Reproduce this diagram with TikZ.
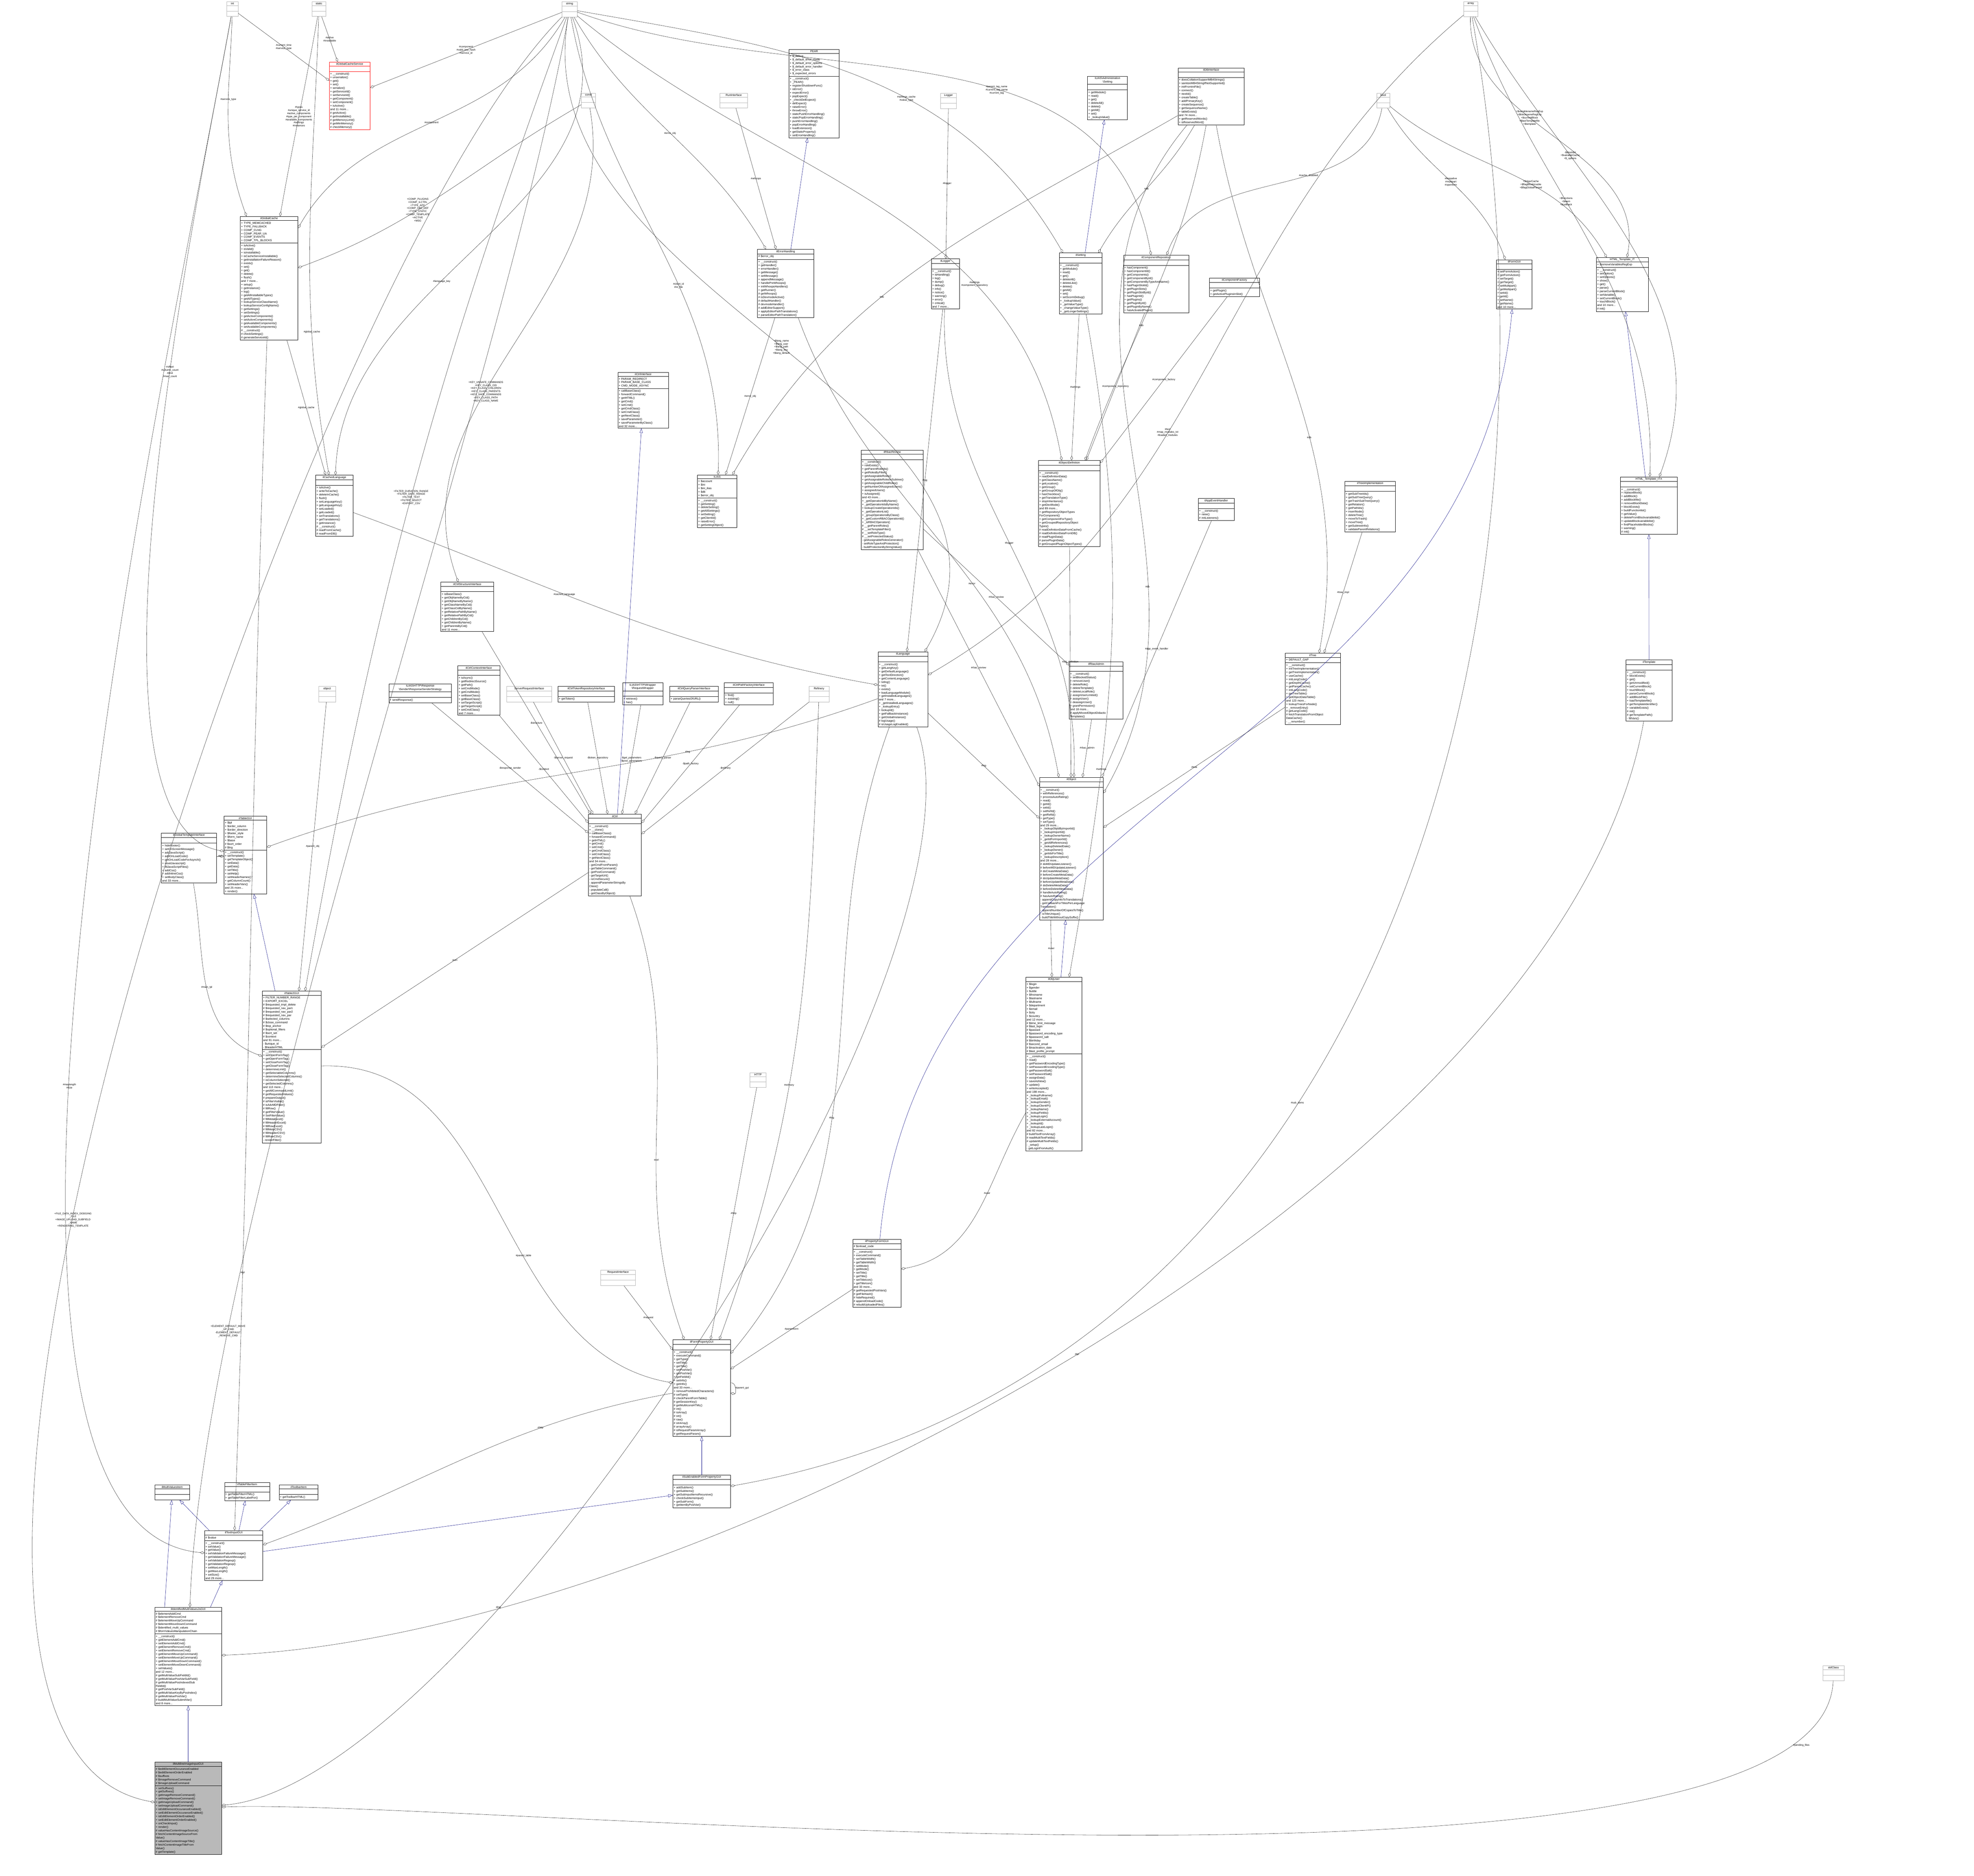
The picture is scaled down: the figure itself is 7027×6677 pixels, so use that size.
\documentclass[tikz,border=0pt]{standalone}
\usepackage{fontspec}
\setmainfont{Liberation Sans}
\usetikzlibrary{shapes.multipart,arrows.meta}
\newcommand\cls[7][]{%
  \pgfmathsetmacro{\clstw}{(#4-6)*0.08}%
  \node[cbox,#1,text width=\clstw pt] (#2) at (#3) {\centering #5\par\nodepart{two}\strut#6\nodepart{three}\strut#7};}
\tikzset{
  cbox/.style={rectangle split, rectangle split parts=3, draw=black, fill=white, line width=0.072pt,
    anchor=north west, inner sep=0.24pt, align=left, font=\fontsize{0.8}{1.008}\selectfont},
  tbox/.style={draw=gray!60},
  uses/.style={draw=black!85, line width=0.064pt, -{Diamond[open,length=1.28pt,width=0.72pt]}},
  inh/.style={draw=blue!50!black, line width=0.064pt, -{Triangle[open,length=1.28pt,width=0.88pt]}},
  lab/.style={font=\fontsize{0.72}{0.88}\selectfont, align=center, inner sep=0.08pt}
}
\begin{document}
\catcode`\_=12 \catcode`\$=12
\begin{tikzpicture}[x=0.08pt,y=-0.08pt]
\useasboundingbox[fill=white] (0,0) rectangle (7027,6677);
% primitive types
\cls[tbox]{int}{807,5}{40}{int}{}{}
\cls[tbox]{static}{1110,5}{50}{static}{}{}
\cls[tbox]{string}{2000,5}{54}{string}{}{}
\cls[tbox]{array}{5210,5}{50}{array}{}{}
\cls[tbox]{bool}{4900,331}{47}{bool}{}{}
\cls[tbox]{const}{2069,331}{51}{const}{}{}
\cls[tbox]{run}{2562,331}{99}{RunInterface}{}{}
\cls[tbox]{logger}{3348,331}{56}{Logger}{}{}
\cls[tbox]{object}{1134,2443}{60}{object}{}{}
\cls[tbox]{srvreq}{1803,2443}{161}{ServerRequestInterface}{}{}
\cls[tbox]{refinery}{2879,2443}{72}{Refinery}{}{}
\cls[tbox]{http}{2669,3818}{58}{HTTP}{}{}
\cls[tbox]{reqif}{2138,4521}{123}{RequestInterface}{}{}
\cls[tbox]{stdclass}{6488,5929}{76}{stdClass}{}{}
% classes
\cls[draw=red]{gcs}{1172,220}{145}{ilGlobalCacheService}{}{+ __construct()\\+ unserialize()\\+ get()\\+ set()\\+ serialize()\\+ getServiceId()\\+ setServiceId()\\+ getComponent()\\+ setComponent()\\+ isActive()\\and 11 more...\\\# getActive()\\\# getInstallable()\\\# getMemoryLimit()\\\# getMinMemory()\\\# checkMemory()}
\cls{pear}{2808,176}{179}{PEAR}{+ $_debug\\+ $_default_error_mode\\+ $_default_error_options\\+ $_default_error_handler\\+ $_error_class\\+ $_expected_errors}{+ __construct()\\+ _PEAR()\\+ registerShutdownFunc()\\+ isError()\\+ expectError()\\+ popExpect()\\+ _checkDelExpect()\\+ delExpect()\\+ raiseError()\\+ throwError()\\+ staticPushErrorHandling()\\+ staticPopErrorHandling()\\+ pushErrorHandling()\\+ popErrorHandling()\\+ loadExtension()\\+ getStaticProperty()\\+ setErrorHandling()}
\cls{gc}{855,770}{205}{ilGlobalCache}{+ TYPE_MEMCACHED\\+ TYPE_FALLBACK\\+ COMP_CLNG\\+ COMP_PEAR_UA\\+ COMP_EVENTS\\+ COMP_TPL_BLOCKS}{+ isActive()\\+ isValid()\\+ isInstallable()\\+ isCacheServiceInstallable()\\+ getInstallationFailureReason()\\+ exists()\\+ set()\\+ get()\\+ delete()\\+ flush()\\and 7 more...\\+ setup()\\+ getInstance()\\+ log()\\+ getAllInstallableTypes()\\+ getAllTypes()\\+ lookupServiceClassName()\\+ lookupServiceConfigName()\\+ getSettings()\\+ setSettings()\\+ getActiveComponents()\\+ setActiveComponents()\\+ getAvailableComponents()\\+ setAvailableComponents()\\\# __construct()\\\# checkSettings()\\\# generateServiceId()}
\cls{eh}{2696,887}{201}{ilErrorHandling}{\# $error_obj}{+ __construct()\\+ getHandler()\\+ errorHandler()\\+ getMessage()\\+ setMessage()\\+ appendMessage()\\+ handlePreWhoops()\\+ initWhoopsHandlers()\\+ getRunner()\\\# getWhoops()\\\# isDevmodeActive()\\\# defaultHandler()\\\# devmodeHandler()\\\# addEditorSupport()\\+ applyEditorPathTranslations()\\+ parseEditorPathTranslation()}
\cls{ilog}{3315,921}{100}{ilLogger}{}{+ __construct()\\+ isHandling()\\+ log()\\+ dump()\\+ debug()\\+ info()\\+ notice()\\+ warning()\\+ error()\\+ critical()\\and 7 more...}
\cls{ctrlif}{2199,1325}{180}{ilCtrlInterface}{+ PARAM_REDIRECT\\+ PARAM_BASE_CLASS\\+ CMD_MODE_ASYNC}{+ callBaseClass()\\+ forwardCommand()\\+ getHTML()\\+ getCmd()\\+ setCmd()\\+ getCmdClass()\\+ setCmdClass()\\+ getNextClass()\\+ saveParameter()\\+ saveParameterByClass()\\and 32 more...}
\cls{rbacrev}{3065,1602}{221}{ilRbacReview}{}{+ __construct()\\+ roleExists()\\+ getParentRoleIds()\\+ getRolesByFilter()\\+ getAssignableRoles()\\+ getAssignableRolesInSubtree()\\+ getAssignableChildRoles()\\+ getNumberOfAssignedUsers()\\+ assignedUsers()\\+ isAssigned()\\and 43 more...\\+ _getOperationIdByName()\\+ _getOperationIdsByName()\\+ lookupCreateOperationIds()\\+ _getOperationList()\\+ _groupOperationsByClass()\\+ _getCustomRBACOperationId()\\+ _isRBACOperation()\\\# __getParentRoles()\\\# __setTemplateFilter()\\\# __setRoleType()\\\# __setProtectedStatus()\\- getAssignableRolesGenerator()\\- setRoleTypeAndProtection()\\- buildProtectionByStringValue()}
\cls{admset}{3871,271}{142}{ILIAS\textbackslash Administration\\\textbackslash Setting}{}{+ getModule()\\+ read()\\+ get()\\+ deleteAll()\\+ delete()\\+ getAll()\\+ set()\\+ _lookupValue()}
\cls{db}{4193,241}{236}{ilDBInterface}{}{+ doesCollationSupportMB4Strings()\\+ sanitizeMB4StringIfNotSupported()\\+ initFromIniFile()\\+ connect()\\+ nextId()\\+ createTable()\\+ addPrimaryKey()\\+ createSequence()\\+ getSequenceName()\\+ tableExists()\\and 74 more...\\+ getReservedWords()\\+ isReservedWord()}
\cls{set}{3770,900}{153}{ilSetting}{}{+ __construct()\\+ getModule()\\+ read()\\+ get()\\+ deleteAll()\\+ deleteLike()\\+ delete()\\+ getAll()\\+ set()\\+ setScormDebug()\\+ _lookupValue()\\+ _getValueType()\\+ _changeValueType()\\+ _getLongerSettings()}
\cls{comprep}{3999,908}{232}{ilComponentRepository}{}{+ hasComponent()\\+ hasComponentId()\\+ getComponents()\\+ getComponentById()\\+ getComponentByTypeAndName()\\+ hasPluginSlotId()\\+ getPluginSlots()\\+ getPluginSlotById()\\+ hasPluginId()\\+ getPlugins()\\+ getPluginById()\\+ getPluginByName()\\+ hasActivatedPlugin()}
\cls{compfac}{4305,989}{178}{ilComponentFactory}{}{+ getPlugin()\\+ getActivePluginsInSlot()}
\cls{formgui}{5327,924}{126}{ilFormGUI}{}{+ setFormAction()\\+ getFormAction()\\+ setTarget()\\+ getTarget()\\+ setMultipart()\\+ getMultipart()\\+ setId()\\+ getId()\\+ setName()\\+ getName()\\and 10 more...}
\cls{htmlit}{5682,916}{185}{HTML_Template_IT}{+ $removeVariablesRegExp}{+ __construct()\\+ setOption()\\+ setOptions()\\+ show()\\+ get()\\+ parse()\\+ parseCurrentBlock()\\+ setVariable()\\+ setCurrentBlock()\\+ touchBlock()\\and 10 more...\\\# init()}
\cls{objdef}{3696,1639}{220}{ilObjectDefinition}{}{+ __construct()\\+ readDefinitionData()\\+ getClassName()\\+ getLocation()\\+ getGroup()\\+ getGroupOfObj()\\+ hasCheckbox()\\+ getTranslationType()\\+ stopInheritance()\\+ getDevMode()\\and 89 more...\\+ getRepositoryObjectTypes\\ForComponent()\\+ getComponentForType()\\+ getGroupedRepositoryObject\\Types()\\\# readDefinitionDataFromCache()\\\# readDefinitionDataFromDB()\\\# readPluginData()\\\# parsePluginData()\\\# getGroupedPluginObjectTypes()}
\cls{cachedlng}{1123,1691}{134}{ilCachedLanguage}{}{+ isActive()\\+ writeToCache()\\+ deleteInCache()\\+ flush()\\+ setLanguageKey()\\+ getLanguageKey()\\+ setLoaded()\\+ getLoaded()\\+ setTranslations()\\+ getTranslations()\\+ getInstance()\\\# __construct()\\\# readFromCache()\\\# readFromDB()}
\cls{ilias}{2482,1690}{141}{ILIAS}{+ $account\\+ $ini\\+ $ini_ilias\\+ $db\\+ $error_obj}{+ __construct()\\+ getSetting()\\+ deleteSetting()\\+ getAllSettings()\\+ setSetting()\\+ getClientId()\\+ raiseError()\\+ getSettingObject()}
\cls{ctrlstruct}{1569,2072}{188}{ilCtrlStructureInterface}{}{+ isBaseClass()\\+ getObjNameByCid()\\+ getObjNameByName()\\+ getClassNameByCid()\\+ getClassCidByName()\\+ getRelativePathByName()\\+ getRelativePathByCid()\\+ getChildrenByCid()\\+ getChildrenByName()\\+ getParentsByCid()\\and 11 more...}
\cls{ctrlctx}{1629,2370}{150}{ilCtrlContextInterface}{}{+ isAsync()\\+ getRedirectSource()\\+ getPath()\\+ setCmdMode()\\+ getCmdMode()\\+ setBaseClass()\\+ getBaseClass()\\+ setTargetScript()\\+ getTargetScript()\\+ setCmdClass()\\and 7 more...}
\cls{respsend}{1384,2434}{223}{ILIAS\textbackslash HTTP\textbackslash Response\\\textbackslash Sender\textbackslash ResponseSenderStrategy}{}{+ sendResponse()}
\cls{tokrep}{1986,2443}{201}{ilCtrlTokenRepositoryInterface}{}{+ getToken()}
\cls{reqwrap}{2216,2430}{143}{ILIAS\textbackslash HTTP\textbackslash Wrapper\\\textbackslash RequestWrapper}{}{+ retrieve()\\+ has()}
\cls{qparse}{2384,2443}{172}{ilCtrlQueryParserInterface}{}{+ parseQueriesOfURL()}
\cls{pathfac}{2578,2430}{174}{ilCtrlPathFactoryInterface}{}{+ find()\\+ existing()\\+ null()}
\cls{lng}{3125,2320}{178}{ilLanguage}{}{+ __construct()\\+ getLangKey()\\+ getDefaultLanguage()\\+ getTextDirection()\\+ getContentLanguage()\\+ txtlng()\\+ txt()\\+ exists()\\+ loadLanguageModule()\\+ getInstalledLanguages()\\and 7 more...\\+ _getInstalledLanguages()\\+ _lookupEntry()\\+ lookupId()\\+ getFallbackInstance()\\+ getGlobalInstance()\\\# logUsage()\\\# isUsageLogEnabled()}
\cls{ctrl}{2094,2898}{189}{ilCtrl}{}{+ __construct()\\+ __clone()\\+ callBaseClass()\\+ forwardCommand()\\+ getHTML()\\+ getCmd()\\+ setCmd()\\+ getCmdClass()\\+ setCmdClass()\\+ getNextClass()\\and 34 more...\\- getCmdFromParam()\\- getTableCommand()\\- getPostCommand()\\- getTargetUrl()\\- isCmdSecure()\\- appendParameterStringsBy\\Class()\\- populateCall()\\- getClassByObject()}
\cls{tablegui}{797,2905}{152}{ilTableGUI}{+ $tpl\\+ $order_column\\+ $order_direction\\+ $footer_style\\+ $form_name\\+ $base\\\# $sort_order\\\# $lng}{+ __construct()\\+ setTemplate()\\+ getTemplateObject()\\+ setData()\\+ getData()\\+ setTitle()\\+ setHelp()\\+ setHeaderNames()\\+ getColumnCount()\\+ setHeaderVars()\\and 25 more...\\+ render()}
\cls{gti}{574,2965}{196}{ilGlobalTemplateInterface}{}{+ hideFooter()\\+ setOnScreenMessage()\\+ addJavaScript()\\+ addOnLoadCode()\\+ getOnLoadCodeForAsynch()\\+ resetJavascript()\\+ fillJavaScriptFiles()\\+ addCss()\\+ addInlineCss()\\+ setBodyClass()\\and 33 more...}
\cls{table2}{933,3528}{210}{ilTable2GUI}{+ FILTER_NUMBER_RANGE\\+ EXPORT_EXCEL\\\# $requested_tmpl_delete\\\# $requested_nav_par1\\\# $requested_nav_par2\\\# $requested_nav_par\\\# $selected_columns\\\# $close_command\\\# $top_anchor\\\# $optional_filters\\\# $sort_set\\\# $context\\and 91 more...\\- $unique_id\\- $headerHTML}{+ __construct()\\+ setOpenFormTag()\\+ getOpenFormTag()\\+ setCloseFormTag()\\+ getCloseFormTag()\\+ determineLimit()\\+ getSelectableColumns()\\+ determineSelectedColumns()\\+ isColumnSelected()\\+ getSelectedColumns()\\and 113 more...\\+ getAllCommandLimit()\\\# getRequestedValues()\\\# prepareOutput()\\\# isFilterVisible()\\\# isAdvMDFilter()\\\# fillRow()\\\# getFilterValue()\\\# SetFilterValue()\\\# fillMetaExcel()\\\# fillHeaderExcel()\\\# fillRowExcel()\\\# fillMetaCSV()\\\# fillHeaderCSV()\\\# fillRowCSV()\\- renderFilter()}
\cls{appev}{4265,1774}{128}{ilAppEventHandler}{}{+ __construct()\\+ raise()\\\# initListeners()}
\cls{treeimpl}{4787,1713}{180}{ilTreeImplementation}{}{+ getSubTreeIds()\\+ getSubTreeQuery()\\+ getTrashSubTreeQuery()\\+ getRelation()\\+ getPathIds()\\+ insertNode()\\+ deleteTree()\\+ moveToTrash()\\+ moveTree()\\+ getSubtreeInfo()\\+ validateParentRelations()}
\cls{htmlitx}{5768,1697}{202}{HTML_Template_ITX}{}{+ __construct()\\+ replaceBlock()\\+ addBlock()\\+ addBlockfile()\\+ removeBlockData()\\+ blockExists()\\+ buildFunctionlist()\\+ getValue()\\+ deleteFromBlockvariablelist()\\+ updateBlockvariablelist()\\+ findPlaceholderBlocks()\\+ warning()\\\# init()}
\cls{rbacadm}{3806,2356}{191}{ilRbacAdmin}{}{+ __construct()\\+ setBlockedStatus()\\+ removeUser()\\+ deleteRole()\\+ deleteTemplate()\\+ deleteLocalRole()\\+ assignUserLimited()\\+ assignUser()\\+ deassignUser()\\+ grantPermission()\\and 18 more...\\\# applyMovedObjectDidactic\\Templates()}
\cls{tree}{4575,2325}{196}{ilTree}{+ DEFAULT_GAP}{+ __construct()\\+ initTreeImplementation()\\+ getTreeImplementation()\\+ useCache()\\+ initLangCode()\\+ getDepthCache()\\+ getParentCache()\\+ initLangCode()\\+ getTreeTable()\\+ getObjectDataTable()\\and 123 more...\\+ lookupTreesForNode()\\+ _removeEntry()\\\# getLangCode()\\\# fetchTranslationFromObject\\DataCache()\\- __renumber()}
\cls{tpl}{5788,2349}{164}{ilTemplate}{}{+ __construct()\\+ blockExists()\\+ get()\\+ getUnmodified()\\+ setCurrentBlock()\\+ touchBlock()\\+ parseCurrentBlock()\\+ addBlockFile()\\+ loadTemplatefile()\\+ getTemplateIdentifier()\\+ variableExists()\\\# init()\\\# getTemplatePath()\\- fillVars()}
\cls{obj}{3700,2767}{227}{ilObject}{}{+ __construct()\\+ withReferences()\\+ processAutoRating()\\+ read()\\+ getId()\\+ setId()\\+ setRefId()\\+ getRefId()\\+ getType()\\+ setType()\\and 29 more...\\+ _lookupObjIdByImportId()\\+ _lookupImportId()\\+ _lookupOwnerName()\\+ _getIdForImportId()\\+ _getAllReferences()\\+ _lookupDeletedDate()\\+ _lookupOwner()\\+ _getIdsForTitle()\\+ _lookupDescription()\\and 28 more...\\\# doMDUpdateListener()\\\# beforeMDUpdateListener()\\\# doCreateMetaData()\\\# beforeCreateMetaData()\\\# doUpdateMetaData()\\\# beforeUpdateMetaData()\\\# doDeleteMetaData()\\\# beforeDeleteMetaData()\\\# handleAutoRating()\\\# hasAutoRating()\\- appendCopyInfoToTranslations()\\- getCallbackForTitlesPerLanguage\\Translation()\\- appendNumberOfCopiesToTitle()\\- isTitleUnique()\\- buildTitleWithoutCopySuffix()}
\cls{user}{3651,3478}{200}{ilObjUser}{+ $login\\+ $gender\\+ $utitle\\+ $firstname\\+ $lastname\\+ $fullname\\+ $department\\+ $email\\+ $city\\+ $country\\and 12 more...\\\# $time_limit_message\\\# $last_login\\\# $passwd\\\# $password_encoding_type\\\# $password_salt\\\# $birthday\\\# $second_email\\\# $inactivation_date\\\# $last_profile_prompt}{+ __construct()\\+ read()\\+ getPasswordEncodingType()\\+ setPasswordEncodingType()\\+ getPasswordSalt()\\+ setPasswordSalt()\\+ assignData()\\+ saveAsNew()\\+ update()\\+ writeAccepted()\\and 198 more...\\+ _lookupFullname()\\+ _lookupEmail()\\+ _lookupGender()\\+ _lookupClientIP()\\+ _lookupName()\\+ _lookupFields()\\+ _lookupLogin()\\+ _lookupExternalAccount()\\+ _lookupId()\\+ _lookupLastLogin()\\and 82 more...\\\# buildTextFromArray()\\\# readMultiTextFields()\\\# updateMultiTextFields()\\- _setup()\\- getLoginFromAuth()}
\cls{pfg}{3035,4411}{172}{ilPropertyFormGUI}{\# $onload_code}{+ __construct()\\+ executeCommand()\\+ setTableWidth()\\+ getTableWidth()\\+ setMode()\\+ getMode()\\+ setTitle()\\+ getTitle()\\+ setTitleIcon()\\+ getTitleIcon()\\and 33 more...\\\# getRequestedPostVars()\\\# getFileHash()\\\# hideRequired()\\\# appendOnloadCode()\\\# rebuildUploadedFiles()}
\cls{fpg}{2395,4769}{205}{ilFormPropertyGUI}{}{+ __construct()\\+ executeCommand()\\+ getType()\\+ setTitle()\\+ getTitle()\\+ setPostVar()\\+ getPostVar()\\+ getFieldId()\\+ setInfo()\\+ getInfo()\\and 33 more...\\+ removeProhibitedCharacters()\\\# setType()\\\# checkParentFormTable()\\\# getSessionKey()\\\# getMultiIconsHTML()\\\# int()\\\# isArray()\\\# str()\\\# raw()\\\# strArray()\\\# arrayArray()\\\# isRequestParamArray()\\\# getRequestParam()}
\cls{sefpg}{2395,5250}{205}{ilSubEnabledFormPropertyGUI}{}{+ addSubItem()\\+ getSubItems()\\+ getSubInputItemsRecursive()\\+ checkSubItemsInput()\\+ getSubForm()\\+ getItemByPostVar()}
\cls{mvi}{551,5286}{123}{ilMultiValuesItem}{}{}
\cls{tfi}{799,5277}{161}{ilTableFilterItem}{}{+ getTableFilterHTML()\\+ getTableFilterLabelFor()}
\cls{tbi}{993,5286}{139}{ilToolbarItem}{}{+ getToolbarHTML()}
\cls{txt}{728,5448}{207}{ilTextInputGUI}{\# $value}{+ __construct()\\+ setValue()\\+ getValue()\\+ setValidationFailureMessage()\\+ getValidationFailureMessage()\\+ setValidationRegexp()\\+ getValidationRegexp()\\+ setMaxLength()\\+ getMaxLength()\\+ setSize()\\and 29 more...}
\cls{imv}{551,5721}{237}{ilIdentifiedMultiValuesJsGUI}{\# $elementAddCmd\\\# $elementRemoveCmd\\\# $elementMoveUpCommand\\\# $elementMoveDownCommand\\\# $identified_multi_values\\\# $formValuesManipulationChain}{+ __construct()\\+ getElementAddCmd()\\+ setElementAddCmd()\\+ getElementRemoveCmd()\\+ setElementRemoveCmd()\\+ getElementMoveUpCommand()\\+ setElementMoveUpCommand()\\+ getElementMoveDownCommand()\\+ setElementMoveDownCommand()\\+ setValues()\\and 12 more...\\\# getMultiValueSubFieldId()\\\# getMultiValuePostVarSubField()\\\# getMultiValuePosIndexedSub\\FieldId()\\\# getPostVarSubField()\\\# getMultiValueKeyByPosIndex()\\\# getMultiValuePostVar()\\\# buildMultiValueSubmitVar()\\and 8 more...}
\cls[fill=gray!55]{mli}{551,6272}{237}{ilMultilineImageInputGUI}{\# $editElementOccuranceEnabled\\\# $editElementOrderEnabled\\\# $suffixes\\\# $imageRemoveCommand\\\# $imageUploadCommand}{+ setSuffixes()\\+ getSuffixes()\\+ getImageRemoveCommand()\\+ setImageRemoveCommand()\\+ getImageUploadCommand()\\+ setImageUploadCommand()\\+ isEditElementOccuranceEnabled()\\+ setEditElementOccuranceEnabled()\\+ isEditElementOrderEnabled()\\+ setEditElementOrderEnabled()\\+ onCheckInput()\\+ render()\\\# valueHasContentImageSource()\\\# fetchContentImageSourceFrom\\Value()\\\# valueHasContentImageTitle()\\\# fetchContentImageTitleFrom\\Value()\\\# getTemplate()}

% inheritance
\draw[inh] (mli) -- (imv);
\draw[inh] (imv) -- (txt);
\draw[inh] (imv.north west) ++(35,0) -- (mvi);
\draw[inh] (txt) -- (mvi);
\draw[inh] (txt) -- (tfi);
\draw[inh] (txt) -- (tbi);
\draw[inh] (txt) -- (sefpg);
\draw[inh] (sefpg) -- (fpg);
\draw[inh] (table2) -- (tablegui);
\draw[inh] (pfg) to[out=85,in=-95] (formgui);
\draw[inh] (tpl) -- (htmlitx);
\draw[inh] (htmlitx) -- (htmlit);
\draw[inh] (set) -- (admset);
\draw[inh] (ctrl) -- (ctrlif);
\draw[inh] (user) -- (obj);
\draw[inh] (eh) -- (pear);

% usage
\draw[uses] (int) -- node[lab]{\#current_time\\\#service_type} (gcs);
\draw[uses] (static) -- node[lab]{\#active\\\#installable} (gcs);
\draw[uses] (string) -- node[lab]{\#component\\\#valid_key_hash\\\#service_id} (gcs);
\draw[uses] (int) to[out=-92,in=110] node[lab,pos=0.4]{\#service_type} (gc);
\draw[uses] (static) to[out=-100,in=80] node[lab,pos=0.5]{\#types\\\#unique_service_id\\\#active_components\\\#type_per_component\\\#available_components\\\#settings\\\#instances} (gc);
\draw[uses] (string) to[out=-120,in=60] node[lab,pos=0.5]{\#component} (gc);
\draw[uses] (const) to[out=-150,in=20] node[lab,pos=0.6]{+COMP_PLUGINS\\+COMP_ILCTRL\\+TYPE_APC\\+COMP_OBJ_DEF\\+TYPE_STATIC\\+COMP_TEMPLATE\\+ACTIVE\\+MSG} (gc);
\draw[uses] (gc) -- node[lab]{\#global_cache} (cachedlng);
\draw[uses] (static) to[out=-92,in=100] node[lab,pos=0.7]{\#global_cache} (cachedlng);
\draw[uses] (string) to[out=-70,in=88] node[lab,pos=0.6]{\#language_key} (cachedlng);
\draw[uses] (string) to[out=-60,in=120] node[lab,pos=0.5]{\#error_obj} (eh);
\draw[uses] (run) -- node[lab]{\#whoops} (eh);
\draw[uses] (logger) -- node[lab]{\#logger} (ilog);
\draw[uses] (string) to[out=-10,in=120] node[lab,pos=0.6]{\#settings_cache\\\#value_type} (set);
\draw[uses] (db) to[out=-120,in=60] node[lab]{\#db} (set);
\draw[uses] (string) to[out=-20,in=100] node[lab,pos=0.6]{\#parent_tag_name\\\#current_tag_name\\\#current_tag} (comprep);
\draw[uses] (bool) to[out=-100,in=70] node[lab,pos=0.4]{\#cache_disabled} (comprep);
\draw[uses] (bool) to[out=-60,in=110] node[lab,pos=0.5]{\#keepalive\\\#multipart\\\#openform} (formgui);
\draw[uses] (array) to[out=-92,in=80] node[lab,pos=0.4]{+$variablenameRegExp\\+$blocknameRegExp\\+$currentBlock\\+$lastTemplatefile\\+$template} (htmlit);
\draw[uses] (bool) to[out=-40,in=120] node[lab,pos=0.6]{+$clearCache\\+$flagBlocktrouble\\+$flagGlobalParsed} (htmlit);
\draw[uses] (array) to[out=-60,in=70] node[lab,pos=0.3]{-$blocklist\\+$variableCache\\+$_options} (htmlitx);
\draw[uses] (array) to[out=-70,in=88] node[lab,pos=0.4]{+$functions\\+$warn\\+$callback} (htmlitx);
\draw[uses] (string) to[out=-40,in=100] node[lab,pos=0.7]{\#settings\\\#component_repository} (objdef);
\draw[uses] (set) -- node[lab]{\#settings} (objdef);
\draw[uses] (comprep) -- node[lab]{\#component_repository} (objdef);
\draw[uses] (compfac) -- node[lab]{\#component_factory} (objdef);
\draw[uses] (db) to[out=-100,in=70] node[lab,pos=0.6]{\#db} (objdef);
\draw[uses] (const) to[out=-80,in=110] node[lab,pos=0.6]{+KEY_UNSAFE_COMMANDS\\+KEY_CLASS_CID\\+KEY_CLASS_CHILDREN\\+KEY_CLASS_PARENTS\\+KEY_SAFE_COMMANDS\\+KEY_CLASS_PATH\\+KEY_CLASS_NAME} (ctrlstruct);
\draw[uses] (string) to[out=-100,in=60] node[lab,pos=0.5]{+$lang_name\\+$lang_user\\+$lang_path\\+$lang_key\\+$lang_default} (lng);
\draw[uses] (cachedlng) to[out=-20,in=170] node[lab,pos=0.4]{\#cached_language} (lng);
\draw[uses] (ilog) -- node[lab]{\#log} (lng);
\draw[uses] (array) to[out=-140,in=30] node[lab,pos=0.6]{\#text\\\#map_modules_txt\\\#loaded_modules} (lng);
\draw[uses] (string) to[out=-80,in=88] node[lab,pos=0.6]{\#client_id\\\#ini_file} (ilias);
\draw[uses] (db) to[out=-150,in=60] node[lab,pos=0.6]{\#db} (ilias);
\draw[uses] (eh) -- node[lab]{\#error_obj} (ilias);
\draw[uses] (ctrlstruct) -- node[lab]{-$structure} (ctrl);
\draw[uses] (ctrlctx) -- node[lab]{-$context} (ctrl);
\draw[uses] (respsend) -- node[lab]{-$response_sender} (ctrl);
\draw[uses] (srvreq) -- node[lab]{-$server_request} (ctrl);
\draw[uses] (tokrep) -- node[lab]{-$token_repository} (ctrl);
\draw[uses] (reqwrap) -- node[lab]{-$get_parameters\\-$post_parameters} (ctrl);
\draw[uses] (qparse) -- node[lab]{-$query_parser} (ctrl);
\draw[uses] (pathfac) -- node[lab]{-$path_factory} (ctrl);
\draw[uses] (refinery) -- node[lab]{-$refinery} (ctrl);
\draw[uses] (object) -- node[lab]{\#parent_obj} (table2);
\draw[uses] (gti) -- node[lab]{\#tpl} (tablegui);
\draw[uses] (lng) to[out=-160,in=20] node[lab,pos=0.3]{\#lng} (tablegui);
\draw[uses] (gti) to[out=-80,in=160] node[lab]{\#main_tpl} (table2);
\draw[uses] (ctrl) -- node[lab]{\#ctrl} (table2);
\draw[uses] (int) to[out=-100,in=170,looseness=0.5] node[lab,pos=0.4]{\#offset\\\#column_count\\\#limit\\\#max_count} (tablegui);
\draw[uses] (string) to[out=-110,in=80] node[lab,pos=0.5]{+FILTER_DURATION_RANGE\\+FILTER_DATE_RANGE\\+FILTER_TEXT\\+FILTER_SELECT\\+EXPORT_CSV} (table2);
\draw[uses] (ilog) to[out=-92,in=88] node[lab,pos=0.5]{\#logger} (obj);
\draw[uses] (objdef) -- node[lab]{\#obj_definition} (obj);
\draw[uses] (rbacadm) -- node[lab]{\#rbac_admin} (obj);
\draw[uses] (rbacrev) -- node[lab]{\#rbac_review} (obj);
\draw[uses] (rbacrev) -- node[lab]{\#rbac_review} (rbacadm);
\draw[uses] (appev) -- node[lab]{\#app_event_handler} (obj);
\draw[uses] (tree) -- node[lab]{\#tree} (obj);
\draw[uses] (treeimpl) -- node[lab]{\#tree_impl} (tree);
\draw[uses] (db) to[out=-80,in=80] node[lab,pos=0.6]{\#db} (tree);
\draw[uses] (db) to[out=-130,in=60] node[lab,pos=0.7]{\#db} (obj);
\draw[uses] (lng) -- node[lab]{\#lng} (obj);
\draw[uses] (eh) to[out=-70,in=100] node[lab,pos=0.6]{\#error} (obj);
\draw[uses] (set) to[out=-80,in=80] node[lab,pos=0.7]{\#settings} (user);
\draw[uses] (obj.south west) ++(40,0) -- node[lab]{\#user} (user);
\draw[uses] (user) to[out=-120,in=10] node[lab,pos=0.4]{\#user} (pfg);
\draw[uses] (pfg) -- node[lab]{\#parentform} (fpg);
\draw[uses] (http) -- node[lab]{\#http} (fpg);
\draw[uses] (reqif) -- node[lab]{\#request} (fpg);
\draw[uses] (table2) to[out=2,in=170] node[lab,pos=0.6]{\#parent_table} (fpg);
\draw[uses] (ctrl) to[out=-70,in=110] node[lab,pos=0.6]{\#ctrl} (fpg);
\draw[uses] (refinery) to[out=-92,in=70] node[lab,pos=0.6]{\#refinery} (fpg);
\draw[uses] (lng) to[out=-110,in=50] node[lab,pos=0.6]{\#lng} (fpg);
\draw[uses] (fpg.10) to[out=10,in=-10,looseness=1.5] node[lab,right]{\#parent_gui} (fpg.-10);
\draw[uses] (fpg) to[out=-170,in=20] node[lab,pos=0.3]{\#http} (txt);
\draw[uses] (string) to[out=-100,in=88,looseness=0.6] node[lab,pos=0.8]{+ELEMENT_DEFAULT_MOVE\\_UP_CMD\\-ELEMENT_DEFAULT\\_REMOVE_CMD} (imv);
\draw[uses] (gc) to[out=-92,in=88] node[lab,pos=0.8]{\#tpl} (txt);
\draw[uses] (tpl) to[out=-100,in=2,looseness=0.7] node[lab,pos=0.5]{\#tpl} (imv);
\draw[uses] (lng) to[out=-70,in=5,looseness=0.5] node[lab,pos=0.7]{\#lng} (mli);
\draw[uses] (stdclass) to[out=-92,in=2,looseness=0.4] node[lab,pos=0.1,right]{\#pending_files} (mli);
\draw[uses] (string) to[out=-135,in=170,looseness=0.5] node[lab,pos=0.6]{+FILE_DATA_INDEX_DODGING\\_FILE\\+IMAGE_UPLOAD_SUBFIELD\\_NAME\\+RENDERING_TEMPLATE} (mli);
\draw[uses] (int) to[out=-100,in=175,looseness=0.5] node[lab,pos=0.6]{\#maxlength\\\#size} (txt);
\draw[uses] (array) to[out=-80,in=10] node[lab,pos=0.6]{\#sub_items} (sefpg);
\end{tikzpicture}
\end{document}
